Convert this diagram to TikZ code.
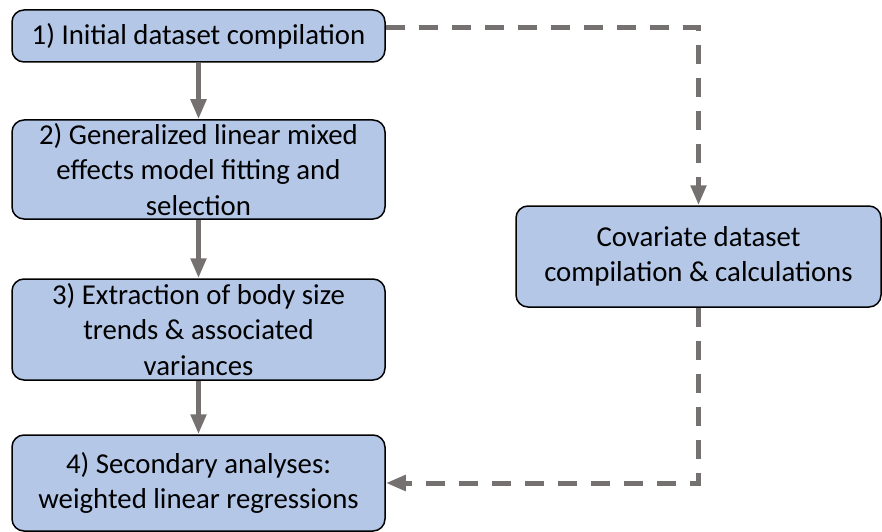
\documentclass[tikz,border=0pt]{standalone}
\usepackage{fontspec}
\setmainfont{Carlito}
\usetikzlibrary{arrows.meta,calc}

\definecolor{boxblue}{HTML}{B4C7E7}
\definecolor{arrowgray}{HTML}{767171}

\tikzset{
	stage/.style={draw=black, line width=1.5pt, fill=boxblue, rounded corners=12pt,
		align=center, minimum width=373pt, inner sep=0pt,
		font=\fontsize{28.8}{35.5}\selectfont},
	flow/.style={draw=arrowgray, line width=5pt, -{Triangle[length=20pt,width=15pt]}},
	feed/.style={flow, dash pattern=on 19pt off 14pt}
}

\begin{document}
\begin{tikzpicture}[x=1pt, y=1pt]
	\useasboundingbox (0, 0) rectangle (882, 531);
	
	% Hauptkette
	\node[stage, minimum height=52pt] (b1) at (198.5, 495) {1) Initial dataset compilation};
	\node[stage, minimum height=99pt] (b2) at (198.5, 361.5) {2) Generalized linear mixed\\effects model fitting and\\selection};
	\node[stage, minimum height=101pt] (b3) at (198.5, 201.5) {3) Extraction of body size\\trends \& associated\\variances};
	\node[stage, minimum height=96pt] (b4) at (198.5, 48) {4) Secondary analyses:\\weighted linear regressions};
	
	% Nebenzweig
	\node[stage, minimum width=365pt, minimum height=101pt] (cov) at (698.5, 274.5) {Covariate dataset\\compilation \& calculations};
	
	\draw[flow] (b1) -- (b2);
	\draw[flow] (b2) -- (b3);
	\draw[flow] (b3) -- (b4);
	
	\draw[feed] ($(b1.east)+(0, 8)$) -| (cov.north);
	\draw[feed] (cov.south) |- (b4.east);
\end{tikzpicture}
\end{document}
